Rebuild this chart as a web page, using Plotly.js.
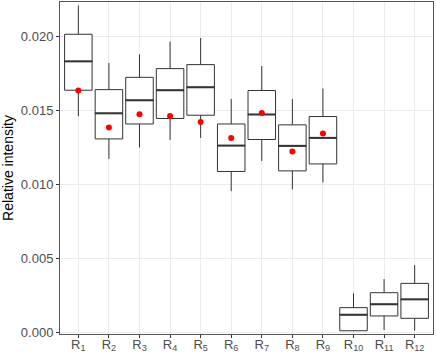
<!DOCTYPE html>
<html>
<head>
<meta charset="utf-8">
<script src="https://cdn.plot.ly/plotly-3.0.1.min.js"></script>
<style>
  html, body { margin: 0; padding: 0; background: #fff; }
  #chart { width: 436px; height: 354px; }
</style>
</head>
<body>
<div id="chart"></div>
<script>
document.addEventListener("DOMContentLoaded", function() {
    var groups = ["R1","R2","R3","R4","R5","R6","R7","R8","R9","R10","R11","R12"];
    var labels = ["R<sub>1</sub>","R<sub>2</sub>","R<sub>3</sub>","R<sub>4</sub>","R<sub>5</sub>","R<sub>6</sub>",
                  "R<sub>7</sub>","R<sub>8</sub>","R<sub>9</sub>","R<sub>10</sub>","R<sub>11</sub>","R<sub>12</sub>"];

    var lower  = [0.01458, 0.01170, 0.01247, 0.01298, 0.01312, 0.00952, 0.01155, 0.00964, 0.01011, 0.00007, 0.00014, 0.00010];
    var q1     = [0.01634, 0.01305, 0.01406, 0.01443, 0.01465, 0.01085, 0.01301, 0.01089, 0.01136, 0.00009, 0.00109, 0.00093];
    var median = [0.01829, 0.01478, 0.01566, 0.01634, 0.01654, 0.01260, 0.01470, 0.01258, 0.01312, 0.00117, 0.00188, 0.00221];
    var q3     = [0.02012, 0.01638, 0.01721, 0.01780, 0.01807, 0.01406, 0.01632, 0.01400, 0.01456, 0.00165, 0.00266, 0.00329];
    var upper  = [0.02207, 0.01818, 0.01877, 0.01962, 0.01987, 0.01575, 0.01798, 0.01575, 0.01645, 0.00262, 0.00358, 0.00453];

    // red dots only visible for the first nine groups
    var meanGroups = ["R1","R2","R3","R4","R5","R6","R7","R8","R9"];
    var means      = [0.01632, 0.01382, 0.01472, 0.01460, 0.01420, 0.01312, 0.01480, 0.01220, 0.01341];

    var boxes = {
        type: 'box',
        x: groups,
        q1: q1,
        median: median,
        q3: q3,
        lowerfence: lower,
        upperfence: upper,
        width: 0.9,
        whiskerwidth: 0,
        fillcolor: '#ffffff',
        line: { color: '#333333', width: 1 },
        hoverinfo: 'skip',
        showlegend: false
    };

    // thicker median bar, as in ggplot
    var medians = {
        type: 'scatter',
        mode: 'markers',
        x: groups,
        y: median,
        marker: { symbol: 'line-ew', size: 20, line: { color: '#333333', width: 2 } },
        hoverinfo: 'skip',
        showlegend: false
    };

    var dots = {
        type: 'scatter',
        mode: 'markers',
        x: meanGroups,
        y: means,
        marker: { color: '#ff0000', size: 6 },
        hoverinfo: 'skip',
        showlegend: false
    };

    var layout = {
        width: 436,
        height: 354,
        margin: { l: 60, r: 3, t: 2, b: 20 },
        paper_bgcolor: '#ffffff',
        plot_bgcolor: '#ffffff',
        font: { family: 'Liberation Sans, Arial, sans-serif', color: '#4d4d4d', size: 13 },
        xaxis: {
            type: 'category',
            categoryorder: 'array',
            categoryarray: groups,
            tickvals: groups,
            ticktext: labels,
            range: [-0.6, 11.6],
            showgrid: true,
            gridcolor: '#ebebeb',
            gridwidth: 1,
            showline: true,
            linecolor: '#555555',
            linewidth: 1,
            mirror: true,
            ticks: 'outside',
            ticklen: 3,
            tickcolor: '#333333',
            tickfont: { size: 13, color: '#4d4d4d' },
            ticklabelstandoff: -5,
            zeroline: false,
            fixedrange: true
        },
        yaxis: {
            range: [-0.00013, 0.0223],
            tickvals: [0, 0.005, 0.010, 0.015, 0.020],
            ticktext: ['0.000', '0.005', '0.010', '0.015', '0.020'],
            showgrid: true,
            gridcolor: '#ebebeb',
            gridwidth: 1,
            showline: true,
            linecolor: '#555555',
            linewidth: 1,
            mirror: true,
            ticks: 'outside',
            ticklen: 3,
            tickcolor: '#333333',
            tickfont: { size: 13, color: '#4d4d4d' },
            zeroline: false,
            title: { text: 'Relative intensity', font: { size: 14, color: '#000000' }, standoff: 6 },
            fixedrange: true
        }
    };

    Plotly.newPlot('chart', [boxes, medians, dots], layout, { displayModeBar: false, staticPlot: true });
});
</script>
</body>
</html>
